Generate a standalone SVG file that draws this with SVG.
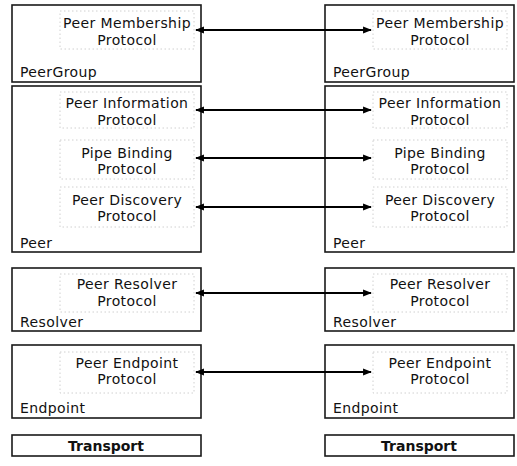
<svg xmlns="http://www.w3.org/2000/svg" width="517" height="466" viewBox="0 0 517 466">
<style>
.box{fill:#ffffff;stroke:#1a1a1a;stroke-width:1.6}
.inner{fill:none;stroke:#c4c4c4;stroke-width:0.8;stroke-dasharray:1.5 2.5}
.t{font-family:"DejaVu Sans",Verdana,sans-serif;font-size:14px;letter-spacing:0.4px;fill:#111;text-anchor:middle}
.lbl{font-family:"DejaVu Sans",Verdana,sans-serif;font-size:14px;letter-spacing:0.4px;fill:#111}
.tb{font-family:"DejaVu Sans",Verdana,sans-serif;font-size:14px;font-weight:bold;fill:#111;text-anchor:middle}
.conn{stroke:#000;stroke-width:2.2;fill:none;marker-start:url(#ah);marker-end:url(#ah)}
</style>
<defs>
<marker id="ah" viewBox="0 0 10 10" refX="9" refY="5" markerWidth="4" markerHeight="4" orient="auto-start-reverse" markerUnits="strokeWidth">
<path d="M0,1 L10,5 L0,9 Z" fill="#000"/>
</marker>
</defs>

<rect width="517" height="466" fill="#ffffff"/>

<!-- Left stack -->
<g id="left-peergroup">
<rect class="box" x="12" y="5" width="189" height="77"/>
<rect class="inner" x="60" y="11" width="134" height="38"/>
<text class="t" x="127" y="28">Peer Membership</text>
<text class="t" x="127" y="44.5">Protocol</text>
<text class="lbl" x="20" y="77">PeerGroup</text>
</g>
<g id="left-peer">
<rect class="box" x="12" y="86" width="189" height="166"/>
<rect class="inner" x="60" y="92" width="134" height="36"/>
<text class="t" x="127" y="108">Peer Information</text>
<text class="t" x="127" y="124.5">Protocol</text>
<rect class="inner" x="60" y="140" width="134" height="39"/>
<text class="t" x="127" y="157.5">Pipe Binding</text>
<text class="t" x="127" y="174">Protocol</text>
<rect class="inner" x="60" y="187" width="134" height="40"/>
<text class="t" x="127" y="204.5">Peer Discovery</text>
<text class="t" x="127" y="221">Protocol</text>
<text class="lbl" x="20" y="248">Peer</text>
</g>
<g id="left-resolver">
<rect class="box" x="12" y="268" width="189" height="63"/>
<rect class="inner" x="60" y="274" width="134" height="38"/>
<text class="t" x="127" y="289">Peer Resolver</text>
<text class="t" x="127" y="305.5">Protocol</text>
<text class="lbl" x="20" y="327">Resolver</text>
</g>
<g id="left-endpoint">
<rect class="box" x="12" y="345" width="189" height="73"/>
<rect class="inner" x="60" y="352" width="134" height="41"/>
<text class="t" x="127" y="367.5">Peer Endpoint</text>
<text class="t" x="127" y="384">Protocol</text>
<text class="lbl" x="20" y="413">Endpoint</text>
</g>
<g id="left-transport">
<rect class="box" x="12" y="435" width="189" height="21"/>
<text class="tb" x="106" y="451">Transport</text>
</g>

<!-- Right stack -->
<g id="right-peergroup">
<rect class="box" x="325" y="5" width="189" height="77"/>
<rect class="inner" x="373" y="11" width="134" height="38"/>
<text class="t" x="440" y="28">Peer Membership</text>
<text class="t" x="440" y="44.5">Protocol</text>
<text class="lbl" x="333" y="77">PeerGroup</text>
</g>
<g id="right-peer">
<rect class="box" x="325" y="86" width="189" height="166"/>
<rect class="inner" x="373" y="92" width="134" height="36"/>
<text class="t" x="440" y="108">Peer Information</text>
<text class="t" x="440" y="124.5">Protocol</text>
<rect class="inner" x="373" y="140" width="134" height="39"/>
<text class="t" x="440" y="157.5">Pipe Binding</text>
<text class="t" x="440" y="174">Protocol</text>
<rect class="inner" x="373" y="187" width="134" height="40"/>
<text class="t" x="440" y="204.5">Peer Discovery</text>
<text class="t" x="440" y="221">Protocol</text>
<text class="lbl" x="333" y="248">Peer</text>
</g>
<g id="right-resolver">
<rect class="box" x="325" y="268" width="189" height="63"/>
<rect class="inner" x="373" y="274" width="134" height="38"/>
<text class="t" x="440" y="289">Peer Resolver</text>
<text class="t" x="440" y="305.5">Protocol</text>
<text class="lbl" x="333" y="327">Resolver</text>
</g>
<g id="right-endpoint">
<rect class="box" x="325" y="345" width="189" height="73"/>
<rect class="inner" x="373" y="352" width="134" height="41"/>
<text class="t" x="440" y="367.5">Peer Endpoint</text>
<text class="t" x="440" y="384">Protocol</text>
<text class="lbl" x="333" y="413">Endpoint</text>
</g>
<g id="right-transport">
<rect class="box" x="325" y="435" width="189" height="21"/>
<text class="tb" x="419" y="451">Transport</text>
</g>

<!-- Connectors -->
<g id="connectors">
<line class="conn" x1="196" y1="30" x2="371" y2="30"/>
<line class="conn" x1="196" y1="110" x2="371" y2="110"/>
<line class="conn" x1="196" y1="158" x2="371" y2="158"/>
<line class="conn" x1="196" y1="207" x2="371" y2="207"/>
<line class="conn" x1="196" y1="293" x2="371" y2="293"/>
<line class="conn" x1="196" y1="372" x2="371" y2="372"/>
</g>
</svg>
